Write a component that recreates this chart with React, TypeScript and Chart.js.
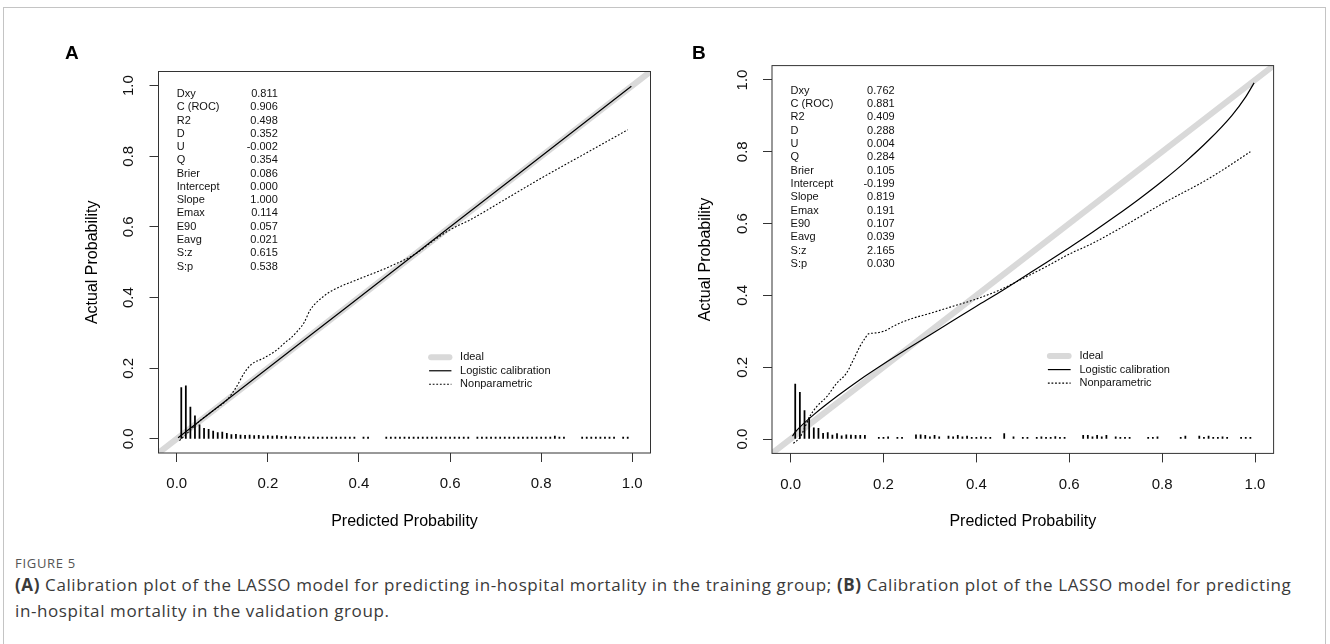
import React, { useEffect, useRef } from 'react';
import { Chart, registerables } from 'chart.js';

Chart.register(...registerables);

// ---------- shared axis data ----------
const TICK_VALUES = [0, 0.2, 0.4, 0.6, 0.8, 1.0];
const TICK_LABELS = ['0.0', '0.2', '0.4', '0.6', '0.8', '1.0'];
const AXIS_MIN = -0.04;
const AXIS_MAX = 1.04;

const IDEAL_X = [-0.1, 1.1];
const IDEAL_Y = [-0.1, 1.1];

const STAT_NAMES = ['Dxy', 'C (ROC)', 'R2', 'D', 'U', 'Q', 'Brier', 'Intercept', 'Slope', 'Emax', 'E90', 'Eavg', 'S:z', 'S:p'];
const A_STAT_VALUES = ['0.811', '0.906', '0.498', '0.352', '-0.002', '0.354', '0.086', '0.000', '1.000', '0.114', '0.057', '0.021', '0.615', '0.538'];
const B_STAT_VALUES = ['0.762', '0.881', '0.409', '0.288', '0.004', '0.284', '0.105', '-0.199', '0.819', '0.191', '0.107', '0.039', '2.165', '0.030'];

const LEGEND_LABELS = ['Ideal', 'Logistic calibration', 'Nonparametric'];

// ---------- panel A ----------
const A_LOGISTIC_X = [0.003, 0.25, 0.5, 0.75, 0.998];
const A_LOGISTIC_Y = [0.003, 0.25, 0.5, 0.75, 0.998];

const A_NONPAR_X = [0.006, 0.02, 0.05, 0.08, 0.11, 0.13, 0.15, 0.165, 0.19, 0.22, 0.24, 0.25, 0.265, 0.28, 0.293, 0.322, 0.344, 0.395, 0.468, 0.527, 0.556, 0.6, 0.644, 0.717, 0.8, 0.9, 0.99];
const A_NONPAR_Y = [-0.005, 0.012, 0.05, 0.08, 0.11, 0.145, 0.19, 0.212, 0.228, 0.252, 0.275, 0.285, 0.305, 0.33, 0.365, 0.403, 0.422, 0.45, 0.488, 0.526, 0.554, 0.592, 0.62, 0.675, 0.738, 0.81, 0.875];

const A_SPIKE_X = [0.01, 0.02, 0.03, 0.04, 0.05, 0.06, 0.07, 0.08, 0.09, 0.10, 0.11, 0.12, 0.13, 0.14, 0.15, 0.16, 0.17, 0.18, 0.19, 0.20, 0.21, 0.22, 0.23, 0.24, 0.25, 0.26, 0.27, 0.28, 0.29, 0.30, 0.31, 0.32, 0.33, 0.34, 0.35, 0.36, 0.37, 0.38, 0.39, 0.41, 0.42, 0.46, 0.47, 0.48, 0.49, 0.50, 0.51, 0.52, 0.53, 0.54, 0.55, 0.56, 0.57, 0.58, 0.59, 0.60, 0.61, 0.62, 0.63, 0.64, 0.66, 0.67, 0.68, 0.69, 0.70, 0.71, 0.72, 0.73, 0.74, 0.75, 0.76, 0.77, 0.78, 0.79, 0.80, 0.81, 0.82, 0.83, 0.84, 0.85, 0.89, 0.90, 0.91, 0.92, 0.93, 0.94, 0.95, 0.96, 0.98, 0.99];
const A_SPIKE_H = [0.145, 0.15, 0.09, 0.065, 0.04, 0.03, 0.027, 0.022, 0.018, 0.019, 0.016, 0.012, 0.013, 0.011, 0.01, 0.011, 0.009, 0.01, 0.008, 0.009, 0.008, 0.009, 0.007, 0.008, 0.006, 0.007, 0.006, 0.006, 0.005, 0.006, 0.005, 0.005, 0.005, 0.005, 0.005, 0.005, 0.005, 0.005, 0.005, 0.005, 0.005, 0.005, 0.005, 0.005, 0.005, 0.005, 0.005, 0.005, 0.005, 0.005, 0.005, 0.005, 0.005, 0.005, 0.005, 0.005, 0.005, 0.005, 0.005, 0.005, 0.005, 0.005, 0.005, 0.005, 0.005, 0.005, 0.005, 0.005, 0.005, 0.005, 0.005, 0.005, 0.005, 0.005, 0.005, 0.005, 0.005, 0.008, 0.005, 0.005, 0.005, 0.005, 0.005, 0.005, 0.005, 0.005, 0.005, 0.005, 0.005, 0.005];

// ---------- panel B ----------
const B_LOGISTIC_X = [0.004, 0.01, 0.02, 0.05, 0.1, 0.15, 0.2, 0.25, 0.3, 0.35, 0.4, 0.45, 0.5, 0.55, 0.6, 0.65, 0.7, 0.75, 0.8, 0.85, 0.9, 0.95, 0.98, 0.998];
const B_LOGISTIC_Y = [0.008, 0.019, 0.033, 0.068, 0.119, 0.166, 0.209, 0.25, 0.29, 0.33, 0.37, 0.409, 0.45, 0.491, 0.533, 0.576, 0.621, 0.668, 0.718, 0.772, 0.832, 0.901, 0.953, 0.992];

const B_NONPAR_X = [0.006, 0.02, 0.03, 0.041, 0.056, 0.078, 0.099, 0.12, 0.135, 0.149, 0.16, 0.168, 0.18, 0.2, 0.23, 0.26, 0.3, 0.35, 0.4, 0.45, 0.5, 0.55, 0.6, 0.65, 0.7, 0.8, 0.9, 0.99];
const B_NONPAR_Y = [-0.012, 0.004, 0.03, 0.062, 0.09, 0.118, 0.155, 0.183, 0.22, 0.257, 0.28, 0.293, 0.295, 0.3, 0.32, 0.335, 0.35, 0.37, 0.39, 0.415, 0.447, 0.48, 0.515, 0.545, 0.58, 0.655, 0.725, 0.8];

const B_SPIKE_X = [0.01, 0.02, 0.03, 0.04, 0.05, 0.06, 0.07, 0.08, 0.09, 0.10, 0.11, 0.12, 0.13, 0.14, 0.15, 0.16, 0.19, 0.20, 0.21, 0.23, 0.24, 0.27, 0.28, 0.29, 0.30, 0.31, 0.32, 0.34, 0.35, 0.36, 0.37, 0.38, 0.39, 0.40, 0.41, 0.42, 0.43, 0.46, 0.48, 0.50, 0.51, 0.53, 0.54, 0.55, 0.56, 0.57, 0.58, 0.59, 0.63, 0.64, 0.65, 0.66, 0.67, 0.68, 0.70, 0.71, 0.72, 0.73, 0.77, 0.78, 0.79, 0.84, 0.85, 0.88, 0.89, 0.90, 0.91, 0.92, 0.93, 0.94, 0.97, 0.98, 0.99];
const B_SPIKE_H = [0.153, 0.13, 0.079, 0.06, 0.031, 0.03, 0.016, 0.018, 0.011, 0.015, 0.009, 0.012, 0.011, 0.01, 0.01, 0.01, 0.005, 0.005, 0.006, 0.005, 0.005, 0.012, 0.012, 0.01, 0.006, 0.01, 0.006, 0.008, 0.006, 0.01, 0.006, 0.008, 0.005, 0.005, 0.006, 0.005, 0.005, 0.015, 0.006, 0.005, 0.005, 0.005, 0.006, 0.005, 0.005, 0.007, 0.005, 0.005, 0.01, 0.01, 0.006, 0.01, 0.006, 0.01, 0.006, 0.005, 0.005, 0.005, 0.005, 0.005, 0.006, 0.005, 0.008, 0.008, 0.005, 0.008, 0.005, 0.005, 0.006, 0.005, 0.005, 0.005, 0.005];

// ---------- helpers ----------
const FONT = "'Liberation Sans', Arial, Helvetica, sans-serif";
const zip = (xs: number[], ys: number[]) => xs.map((x, i) => ({ x, y: ys[i] }));

type PanelCfg = {
  logX: number[]; logY: number[];
  npX: number[]; npY: number[];
  spX: number[]; spH: number[];
  stats: string[];
  area: { left: number; top: number; right: number; bottom: number };
  statValueRight: number; statFirstY: number; statStep: number;
};

const CANVAS_W = 1330;
const CANVAS_H = 540;
const Y_AXIS_W = 100;

const decorPlugin = (cfg: PanelCfg) => ({
  id: 'decor',
  afterDraw(chart: any) {
    const { ctx, chartArea } = chart;
    const xs = chart.scales.x;
    const ys = chart.scales.y;
    ctx.save();
    // plot frame
    ctx.strokeStyle = '#333';
    ctx.lineWidth = 1;
    ctx.strokeRect(chartArea.left, chartArea.top, chartArea.right - chartArea.left, chartArea.bottom - chartArea.top);

    // statistics block
    ctx.font = `11px ${FONT}`;
    ctx.fillStyle = '#111';
    ctx.textBaseline = 'middle';
    const lx = xs.getPixelForValue(0);
    const vx = xs.getPixelForValue(cfg.statValueRight);
    const y0 = ys.getPixelForValue(cfg.statFirstY);
    STAT_NAMES.forEach((name, i) => {
      const y = y0 + i * cfg.statStep;
      ctx.textAlign = 'left';
      ctx.fillText(name, lx, y);
      ctx.textAlign = 'right';
      ctx.fillText(cfg.stats[i], vx, y);
    });

    // legend
    const l1 = xs.getPixelForValue(0.554);
    const l2 = xs.getPixelForValue(0.603);
    const tx = xs.getPixelForValue(0.622);
    const ly0 = ys.getPixelForValue(0.231);
    const step = 13.5;
    ctx.strokeStyle = '#d9d9d9';
    ctx.lineWidth = 6;
    ctx.lineCap = 'round';
    ctx.beginPath(); ctx.moveTo(l1 + 2, ly0); ctx.lineTo(l2 - 2, ly0); ctx.stroke();
    ctx.lineCap = 'butt';
    ctx.strokeStyle = '#000';
    ctx.lineWidth = 1.2;
    ctx.beginPath(); ctx.moveTo(l1, ly0 + step); ctx.lineTo(l2, ly0 + step); ctx.stroke();
    ctx.setLineDash([1.8, 1.8]);
    ctx.beginPath(); ctx.moveTo(l1, ly0 + 2 * step); ctx.lineTo(l2, ly0 + 2 * step); ctx.stroke();
    ctx.setLineDash([]);
    ctx.fillStyle = '#111';
    ctx.textAlign = 'left';
    LEGEND_LABELS.forEach((t, i) => ctx.fillText(t, tx, ly0 + i * step));
    ctx.restore();
  },
});

const tickLabel = (v: number) => TICK_LABELS[TICK_VALUES.findIndex((t) => Math.abs(t - v) < 1e-9)];

function buildConfig(cfg: PanelCfg): any {
  const xH = CANVAS_H - cfg.area.bottom;
  return {
    type: 'line',
    data: {
      datasets: [
        {
          type: 'bar',
          label: 'spikes',
          data: zip(cfg.spX, cfg.spH),
          backgroundColor: '#000',
          borderWidth: 0,
          barThickness: 1.1,
          grouped: false,
        },
        {
          label: 'Nonparametric',
          data: zip(cfg.npX, cfg.npY),
          borderColor: '#000',
          borderWidth: 1.1,
          borderDash: [1.8, 1.8],
          pointRadius: 0,
          fill: false,
          cubicInterpolationMode: 'monotone',
        },
        {
          label: 'Logistic calibration',
          data: zip(cfg.logX, cfg.logY),
          borderColor: '#000',
          borderWidth: 1.2,
          pointRadius: 0,
          fill: false,
          cubicInterpolationMode: 'monotone',
        },
        {
          label: 'Ideal',
          data: zip(IDEAL_X, IDEAL_Y),
          borderColor: '#d9d9d9',
          borderWidth: 6,
          pointRadius: 0,
          fill: false,
          clip: 0,
        },
      ],
    },
    options: {
      animation: false,
      responsive: false,
      maintainAspectRatio: false,
      devicePixelRatio: 1,
      events: [],
      layout: {
        padding: {
          left: cfg.area.left - Y_AXIS_W,
          top: cfg.area.top,
          right: CANVAS_W - cfg.area.right,
          bottom: 0,
        },
      },
      plugins: { legend: { display: false }, tooltip: { enabled: false } },
      scales: {
        x: {
          type: 'linear',
          min: AXIS_MIN,
          max: AXIS_MAX,
          offset: false,
          afterBuildTicks: (s: any) => { s.ticks = TICK_VALUES.map((v) => ({ value: v })); },
          afterFit: (s: any) => { s.height = xH; },
          ticks: {
            autoSkip: false,
            maxRotation: 0,
            padding: 13.3,
            color: '#111',
            font: { family: FONT, size: 15 },
            callback: tickLabel,
          },
          grid: { offset: false, drawOnChartArea: false, drawTicks: true, tickLength: 9, color: '#333', lineWidth: 1 },
          border: { display: false },
          title: {
            display: true,
            text: 'Predicted Probability',
            color: '#000',
            font: { family: FONT, size: 16 },
            padding: { top: 0, bottom: 8.7 },
          },
        },
        y: {
          type: 'linear',
          min: AXIS_MIN,
          max: AXIS_MAX,
          offset: false,
          afterBuildTicks: (s: any) => { s.ticks = TICK_VALUES.map((v) => ({ value: v })); },
          afterFit: (s: any) => { s.width = Y_AXIS_W; },
          ticks: {
            autoSkip: false,
            minRotation: 90,
            maxRotation: 90,
            crossAlign: 'center',
            padding: 10,
            color: '#111',
            font: { family: FONT, size: 15 },
            callback: tickLabel,
          },
          grid: { offset: false, drawOnChartArea: false, drawTicks: true, tickLength: 9, color: '#333', lineWidth: 1 },
          border: { display: false },
          title: {
            display: true,
            text: 'Actual Probability',
            color: '#000',
            font: { family: FONT, size: 16 },
            padding: { top: 24, bottom: 0 },
          },
        },
      },
    },
    plugins: [decorPlugin(cfg)],
  };
}

const PANEL_A: PanelCfg = {
  logX: A_LOGISTIC_X, logY: A_LOGISTIC_Y,
  npX: A_NONPAR_X, npY: A_NONPAR_Y,
  spX: A_SPIKE_X, spH: A_SPIKE_H,
  stats: A_STAT_VALUES,
  area: { left: 158.5, top: 71.5, right: 650.5, bottom: 453 },
  statValueRight: 0.222, statFirstY: 0.976, statStep: 13.26,
};

const PANEL_B: PanelCfg = {
  logX: B_LOGISTIC_X, logY: B_LOGISTIC_Y,
  npX: B_NONPAR_X, npY: B_NONPAR_Y,
  spX: B_SPIKE_X, spH: B_SPIKE_H,
  stats: B_STAT_VALUES,
  area: { left: 772, top: 65.6, right: 1273.6, bottom: 453.4 },
  statValueRight: 0.224, statFirstY: 0.97, statStep: 13.33,
};

function Panel({ cfg }: { cfg: PanelCfg }) {
  const ref = useRef<HTMLCanvasElement | null>(null);
  useEffect(() => {
    if (!ref.current) return;
    const chart = new Chart(ref.current, buildConfig(cfg));
    return () => chart.destroy();
  }, [cfg]);
  return (
    <canvas
      ref={ref}
      width={CANVAS_W}
      height={CANVAS_H}
      style={{ position: 'absolute', left: 0, top: 0, width: CANVAS_W, height: CANVAS_H, display: 'block' }}
    />
  );
}

const CAPTION_FONT = "'Open Sans', 'Noto Sans', sans-serif";

export default function App() {
  return (
    <div style={{ position: 'absolute', left: 0, top: 0, width: 1330, height: 644, background: '#fff', overflow: 'hidden' }}>
      <div style={{ position: 'absolute', left: 3, top: 7, width: 1321, height: 700, border: '1px solid #c4c4c4', borderBottom: 'none' }} />
      <Panel cfg={PANEL_A} />
      <Panel cfg={PANEL_B} />
      <div style={{ position: 'absolute', left: 65, top: 42, fontFamily: FONT, fontWeight: 700, fontSize: 19, color: '#000' }}>A</div>
      <div style={{ position: 'absolute', left: 692, top: 42, fontFamily: FONT, fontWeight: 700, fontSize: 19, color: '#000' }}>B</div>
      <div style={{ position: 'absolute', left: 15, top: 554, fontFamily: CAPTION_FONT, fontSize: 13, color: '#555', letterSpacing: 0.7 }}>FIGURE 5</div>
      <div style={{ position: 'absolute', left: 15, top: 572, fontFamily: CAPTION_FONT, fontSize: 17, lineHeight: '26px', color: '#3a3a3a', letterSpacing: 0.6, whiteSpace: 'nowrap' }}>
        <b>(A)</b> Calibration plot of the LASSO model for predicting in-hospital mortality in the training group; <b>(B)</b> Calibration plot of the LASSO model for predicting
        <br />
        in-hospital mortality in the validation group.
      </div>
    </div>
  );
}
